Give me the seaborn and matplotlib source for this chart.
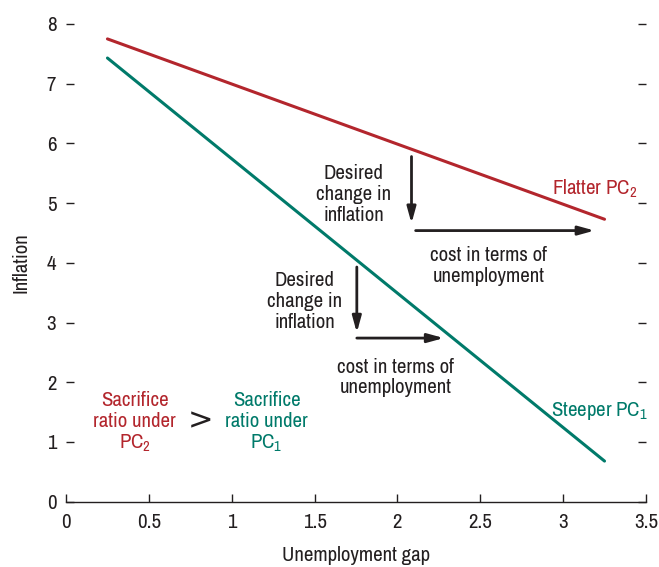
import matplotlib
matplotlib.use("Agg")
import matplotlib.pyplot as plt
from matplotlib import font_manager
import seaborn as sns
import pandas as pd

# ---------------- data ----------------
x_gap = [0.25, 3.25]
flatter_pc2 = [7.75, 4.73]
steeper_pc1 = [7.43, 0.68]
x_ticks = [0, 0.5, 1, 1.5, 2, 2.5, 3, 3.5]
x_tick_labels = ["0", "0.5", "1", "1.5", "2", "2.5", "3", "3.5"]
y_ticks = [0, 1, 2, 3, 4, 5, 6, 7, 8]
y_tick_labels = ["0", "1", "2", "3", "4", "5", "6", "7", "8"]

# annotation arrows (start, end) in data units
arrow_pc2_down = [(2.085, 5.78), (2.085, 4.66)]
arrow_pc2_right = [(2.11, 4.54), (3.19, 4.54)]
arrow_pc1_down = [(1.755, 3.93), (1.755, 2.83)]
arrow_pc1_right = [(1.755, 2.74), (2.28, 2.74)]

RED = "#b3262d"
GREEN = "#007a6a"
INK = "#231f20"

df = pd.DataFrame({
    "gap": x_gap + x_gap,
    "inflation": flatter_pc2 + steeper_pc1,
    "curve": ["Flatter PC2"] * len(x_gap) + ["Steeper PC1"] * len(x_gap),
})

sns.set_theme(style="white")
names = sorted({f.name for f in font_manager.fontManager.ttflist})
cond = [n for n in names if ("Condensed" in n or "Narrow" in n)]
FONT = cond[0] if cond else "Roboto"
plt.rcParams["font.family"] = [FONT, "DejaVu Sans"]
plt.rcParams["mathtext.fontset"] = "custom"
plt.rcParams["mathtext.rm"] = FONT
plt.rcParams["mathtext.it"] = FONT
plt.rcParams["mathtext.default"] = "rm"

fig = plt.figure(figsize=(6.59, 5.67), dpi=100)
ax = fig.add_axes([0.1002, 0.1152, 0.880, 0.8425])

sns.lineplot(data=df, x="gap", y="inflation", hue="curve",
             palette={"Flatter PC2": RED, "Steeper PC1": GREEN},
             linewidth=2.2, legend=False, ax=ax)

ax.set_xlim(0, 3.5)
ax.set_ylim(0, 8)
ax.set_xticks(x_ticks)
ax.set_xticklabels(x_tick_labels)
ax.set_yticks(y_ticks)
ax.set_yticklabels(y_tick_labels)

for s in ["top", "right", "left"]:
    ax.spines[s].set_visible(False)
ax.spines["bottom"].set_color(INK)
ax.spines["bottom"].set_linewidth(1.0)

LS = 15
ax.tick_params(axis="x", direction="in", length=6, width=1.0, color=INK,
               labelsize=LS, labelcolor=INK, pad=8, bottom=True)
ax.tick_params(axis="y", direction="in", length=6, width=1.0, color=INK,
               labelsize=LS, labelcolor=INK, pad=7, left=True, right=True)

ax.set_xlabel("Unemployment gap", fontsize=LS, color=INK, labelpad=10)
ax.set_ylabel("Inflation", fontsize=LS, color=INK, labelpad=12)

def arrow(seg):
    (x0, y0), (x1, y1) = seg
    ax.annotate("", xy=(x1, y1), xytext=(x0, y0),
                arrowprops=dict(arrowstyle="-|>,head_length=0.8,head_width=0.22",
                                color=INK, lw=2.0, shrinkA=0, shrinkB=0))

for seg in [arrow_pc2_down, arrow_pc2_right, arrow_pc1_down, arrow_pc1_right]:
    arrow(seg)

fs = 15
ls = 1.13
ax.text(1.735, 5.14, "Desired\nchange in\ninflation", ha="center", va="center",
        fontsize=fs, color=INK, linespacing=ls)
ax.text(1.44, 3.35, "Desired\nchange in\ninflation", ha="center", va="center",
        fontsize=fs, color=INK, linespacing=ls)
ax.text(2.55, 3.95, "cost in terms of\nunemployment", ha="center", va="center",
        fontsize=fs, color=INK, linespacing=ls)
ax.text(1.99, 2.08, "cost in terms of\nunemployment", ha="center", va="center",
        fontsize=fs, color=INK, linespacing=ls)
ax.text(3.19, 5.24, "Flatter PC$_2$", ha="center", va="center", fontsize=fs, color=RED)
ax.text(3.22, 1.52, "Steeper PC$_1$", ha="center", va="center", fontsize=fs, color=GREEN)
ax.text(0.415, 1.33, "Sacrifice\nratio under\nPC$_2$", ha="center", va="center",
        fontsize=fs, color=RED, linespacing=ls)
ax.text(0.81, 1.36, ">", ha="center", va="center", fontsize=22, color=INK,
        family=["DejaVu Sans"], fontweight="normal")
ax.text(1.21, 1.33, "Sacrifice\nratio under\nPC$_1$", ha="center", va="center",
        fontsize=fs, color=GREEN, linespacing=ls)

fig.savefig("out.png", dpi=100)
